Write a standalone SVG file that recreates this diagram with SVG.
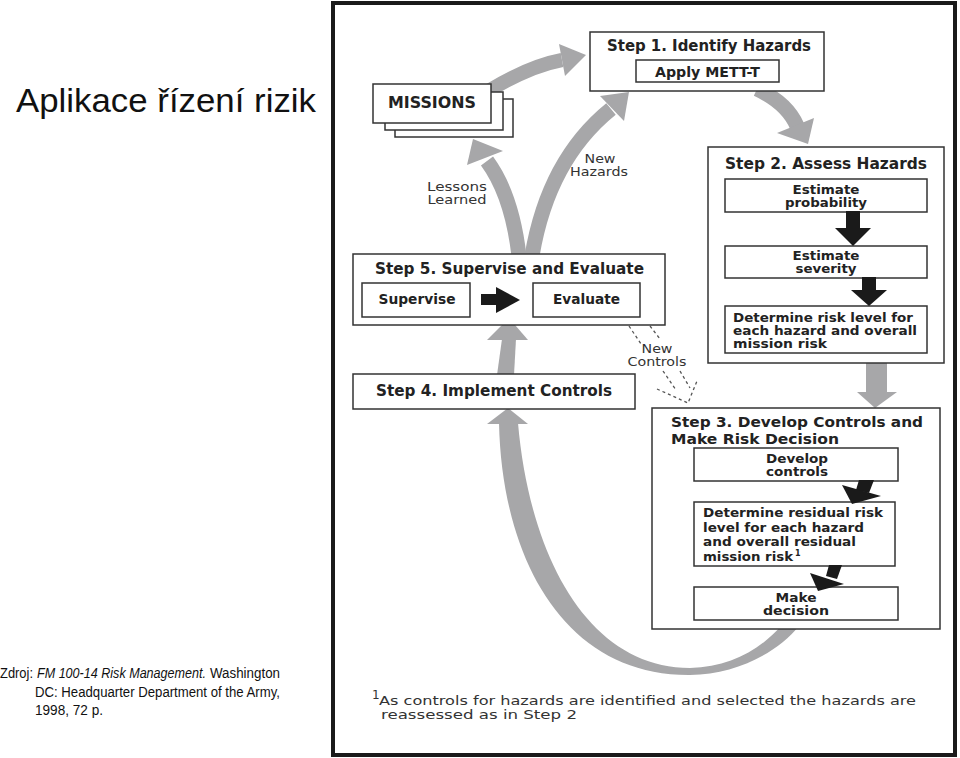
<svg xmlns="http://www.w3.org/2000/svg" width="960" height="758" viewBox="0 0 960 758">
<style>
.box{fill:#fff;stroke:#333;stroke-width:1.5}
.t{font-family:"DejaVu Sans","Liberation Sans",sans-serif;font-weight:bold;fill:#222}
.ttl{font-size:15px}
.in{font-size:12px}
.lbl{font-family:"DejaVu Sans","Liberation Sans",sans-serif;font-size:12px;fill:#333}
.gray{fill:#a7a7a9}
.gs{fill:none;stroke:#a7a7a9}
.blk{fill:#1a1a1a}
.dash{fill:none;stroke:#555;stroke-width:1.3;stroke-dasharray:3 3}
.side{font-family:"Liberation Sans",sans-serif;fill:#111}
</style>
<rect width="960" height="758" fill="#fff"/>

<g id="title">
<text class="side" x="16" y="112" font-size="34" textLength="300" lengthAdjust="spacingAndGlyphs">Aplikace řízení rizik</text>
</g>
<g id="source">
<text class="side" x="0" y="678" font-size="14" textLength="33" lengthAdjust="spacingAndGlyphs">Zdroj:</text>
<text class="side" x="37" y="678" font-size="14" font-style="italic" textLength="169" lengthAdjust="spacingAndGlyphs">FM 100-14 Risk Management.</text>
<text class="side" x="210" y="678" font-size="14" textLength="70" lengthAdjust="spacingAndGlyphs">Washington</text>
<text class="side" x="35" y="697" font-size="14" textLength="245" lengthAdjust="spacingAndGlyphs">DC: Headquarter Department of the Army,</text>
<text class="side" x="35" y="715" font-size="14" textLength="68" lengthAdjust="spacingAndGlyphs">1998, 72 p.</text>
</g>

<g id="frame">
<rect x="333" y="3" width="622" height="752" fill="none" stroke="#1a1a1a" stroke-width="4"/>
</g>

<g id="connectors">
<path class="gs" stroke-width="14" d="M490,90 Q530,66 562,60"/>
<polygon class="gray" points="559,44 586,55 565,76"/>
<path class="gs" stroke-width="15" d="M519,256 Q512,195 487,161"/>
<polygon class="gray" points="467,165 503,151 473,139"/>
<path class="gs" stroke-width="15" d="M532,256 Q548,160 611,109"/>
<polygon class="gray" points="600,96 624,121 629,92"/>
<path class="gs" stroke-width="15" d="M757,89 Q787,103 797,126"/>
<polygon class="gray" points="777,133 814,118 808,144"/>
<rect class="gray" x="866" y="362" width="21" height="31"/>
<polygon class="gray" points="857,392 897,392 875,408"/>
<polygon class="gray" points="497,375 514,375 516,339 502,339"/>
<polygon class="gray" points="487,340 528,340 509,318"/>
<path class="gray" d="M499,423 C502,560 565,676 690,675 C735,674 775,655 800,625 L782,625 C760,650 730,667 690,668 C590,668 530,560 518,423 Z"/>
<polygon class="gray" points="487,424 528,424 508,408"/>
<path class="dash" d="M629,326 L641,344 M650,326 L660,339 M663,371 L676,390 M680,371 L690,388 M657,389 L688,403 L697,381"/>
</g>

<g id="labels">
<text class="lbl" x="457" y="191" text-anchor="middle" textLength="60" lengthAdjust="spacingAndGlyphs">Lessons</text>
<text class="lbl" x="457" y="204" text-anchor="middle" textLength="59" lengthAdjust="spacingAndGlyphs">Learned</text>
<text class="lbl" x="600" y="163" text-anchor="middle" textLength="31" lengthAdjust="spacingAndGlyphs">New</text>
<text class="lbl" x="599" y="176" text-anchor="middle" textLength="58" lengthAdjust="spacingAndGlyphs">Hazards</text>
<text class="lbl" x="657" y="353" text-anchor="middle" textLength="31" lengthAdjust="spacingAndGlyphs">New</text>
<text class="lbl" x="657" y="366" text-anchor="middle" textLength="59" lengthAdjust="spacingAndGlyphs">Controls</text>
</g>

<g id="missions">
<rect class="box" x="395" y="99" width="118" height="38"/>
<rect class="box" x="385" y="92" width="118" height="38"/>
<rect class="box" x="373" y="84" width="118" height="39"/>
<text class="t ttl" x="432" y="108" text-anchor="middle" textLength="88" lengthAdjust="spacingAndGlyphs">MISSIONS</text>
</g>

<g id="step1">
<rect class="box" x="590" y="32" width="234" height="59"/>
<text class="t ttl" x="709" y="51" text-anchor="middle" textLength="204" lengthAdjust="spacingAndGlyphs">Step 1. Identify Hazards</text>
<rect class="box" x="636" y="60" width="143" height="22"/>
<text class="t" x="707.5" y="77" font-size="13.5" text-anchor="middle" textLength="105" lengthAdjust="spacingAndGlyphs">Apply METT-T</text>
</g>

<g id="step2">
<rect class="box" x="708" y="147" width="236" height="216"/>
<text class="t ttl" x="725" y="169" textLength="202" lengthAdjust="spacingAndGlyphs">Step 2. Assess Hazards</text>
<rect class="box" x="725" y="179" width="202" height="33"/>
<text class="t in" x="826" y="194" text-anchor="middle" textLength="67" lengthAdjust="spacingAndGlyphs">Estimate</text>
<text class="t in" x="826" y="207" text-anchor="middle" textLength="82" lengthAdjust="spacingAndGlyphs">probability</text>
<rect class="box" x="725" y="246" width="202" height="32"/>
<text class="t in" x="826" y="260" text-anchor="middle" textLength="67" lengthAdjust="spacingAndGlyphs">Estimate</text>
<text class="t in" x="826" y="273" text-anchor="middle" textLength="61" lengthAdjust="spacingAndGlyphs">severity</text>
<rect class="box" x="725" y="306" width="202" height="47"/>
<text class="t in" x="733" y="322" textLength="180" lengthAdjust="spacingAndGlyphs">Determine risk level for</text>
<text class="t in" x="733" y="335" textLength="184" lengthAdjust="spacingAndGlyphs">each hazard and overall</text>
<text class="t in" x="733" y="348" textLength="94" lengthAdjust="spacingAndGlyphs">mission risk</text>
</g>

<g id="step5">
<rect class="box" x="353" y="254" width="312" height="71"/>
<text class="t ttl" x="375" y="274" textLength="269" lengthAdjust="spacingAndGlyphs">Step 5. Supervise and Evaluate</text>
<rect class="box" x="362" y="283" width="108" height="34"/>
<text class="t" x="417" y="304" font-size="13.5" text-anchor="middle" textLength="77" lengthAdjust="spacingAndGlyphs">Supervise</text>
<rect class="box" x="533" y="283" width="107" height="34"/>
<text class="t" x="586.5" y="304" font-size="13.5" text-anchor="middle" textLength="67" lengthAdjust="spacingAndGlyphs">Evaluate</text>
</g>

<g id="step4">
<rect class="box" x="353" y="374" width="282" height="35"/>
<text class="t ttl" x="376" y="396" textLength="236" lengthAdjust="spacingAndGlyphs">Step 4. Implement Controls</text>
</g>

<g id="step3">
<rect class="box" x="652" y="408" width="288" height="221"/>
<text class="t" x="671" y="427" font-size="14.5" textLength="252" lengthAdjust="spacingAndGlyphs">Step 3. Develop Controls and</text>
<text class="t" x="671" y="444" font-size="14.5" textLength="168" lengthAdjust="spacingAndGlyphs">Make Risk Decision</text>
<rect class="box" x="694" y="448" width="204" height="33"/>
<text class="t in" x="797" y="463" text-anchor="middle" textLength="62" lengthAdjust="spacingAndGlyphs">Develop</text>
<text class="t in" x="797" y="476" text-anchor="middle" textLength="62" lengthAdjust="spacingAndGlyphs">controls</text>
<rect class="box" x="694" y="502" width="201" height="64"/>
<text class="t in" x="703" y="517" textLength="180" lengthAdjust="spacingAndGlyphs">Determine residual risk</text>
<text class="t in" x="703" y="532" textLength="161" lengthAdjust="spacingAndGlyphs">level for each hazard</text>
<text class="t in" x="703" y="546" textLength="153" lengthAdjust="spacingAndGlyphs">and overall residual</text>
<text class="t in" x="703" y="561" textLength="90" lengthAdjust="spacingAndGlyphs">mission risk</text>
<text class="t" x="795" y="556" font-size="8">1</text>
<rect class="box" x="694" y="587" width="204" height="33"/>
<text class="t in" x="796" y="602" text-anchor="middle" textLength="41" lengthAdjust="spacingAndGlyphs">Make</text>
<text class="t in" x="796" y="615" text-anchor="middle" textLength="66" lengthAdjust="spacingAndGlyphs">decision</text>
</g>

<g id="inner-connectors">
<rect class="blk" x="846" y="211" width="14" height="18"/>
<polygon class="blk" points="835,228 871,228 853,246"/>
<rect class="blk" x="862" y="277" width="14" height="14"/>
<polygon class="blk" points="851,290 887,290 869,306"/>
<rect class="blk" x="481" y="294" width="18" height="11"/>
<polygon class="blk" points="496,287 520,300 496,313"/>
<polygon class="blk" points="859,480 874,480 869,493 856,490"/>
<polygon class="blk" points="842,485 881,496 852,504"/>
<polygon class="blk" points="829,565 842,565 837,579 826,576"/>
<polygon class="blk" points="810,573 844,584 818,591"/>
</g>

<g id="footnote">
<text class="lbl" x="372" y="699" font-size="10">1</text>
<text class="lbl" x="379" y="705" font-size="16" textLength="537" lengthAdjust="spacingAndGlyphs">As controls for hazards are identified and selected the hazards are</text>
<text class="lbl" x="381" y="719" font-size="16" textLength="196" lengthAdjust="spacingAndGlyphs">reassessed as in Step 2</text>
</g>
</svg>
